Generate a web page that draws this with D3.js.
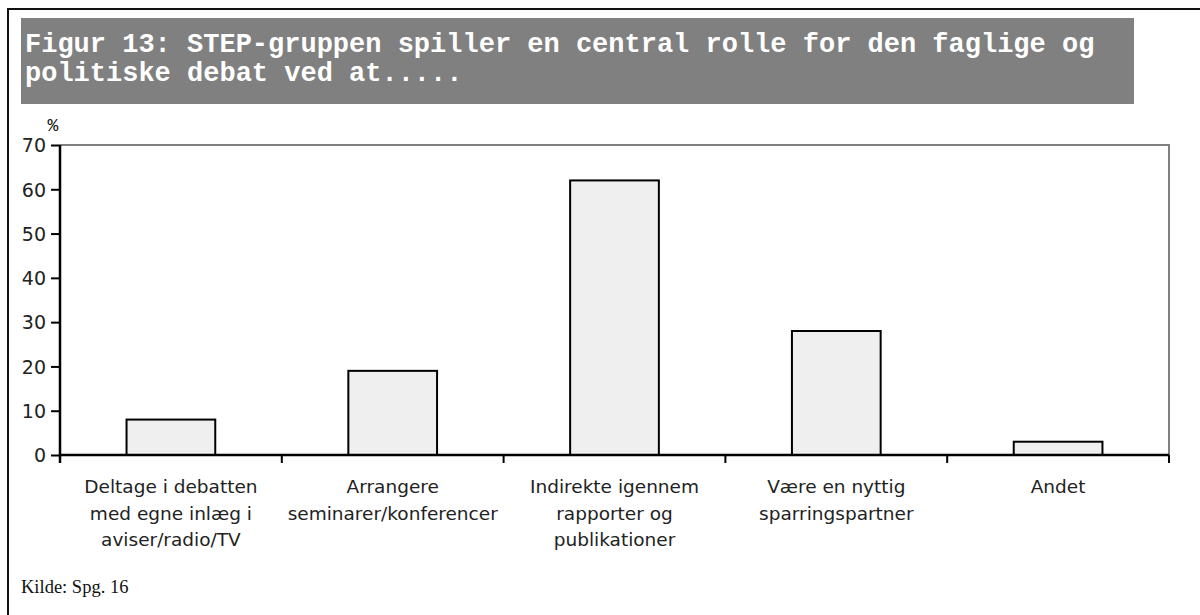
<!DOCTYPE html>
<html>
<head>
<meta charset="utf-8">
<script src="https://cdn.jsdelivr.net/npm/d3@7"></script>
<style>
  html, body { margin: 0; padding: 0; background: #fff; }
  svg { display: block; }
</style>
</head>
<body>
<svg id="chart" width="1200" height="615"></svg>
<script>
const titleLines = [
  "Figur 13: STEP-gruppen spiller en central rolle for den faglige og",
  "politiske debat ved at....."
];
const categories = [
  "Deltage i debatten|med egne inlæg i|aviser/radio/TV",
  "Arrangere|seminarer/konferencer",
  "Indirekte igennem|rapporter og|publikationer",
  "Være en nyttig|sparringspartner",
  "Andet"
];
const values = [8, 19, 62, 28, 3];
const yTicks = [0, 10, 20, 30, 40, 50, 60, 70];
const yUnit = "%";
const source = "Kilde: Spg. 16";

(function () {
const svg = d3.select("#chart");

// outer frame
svg.append("rect")
  .attr("x", 8).attr("y", 9).attr("width", 1250).attr("height", 700)
  .attr("fill", "none").attr("stroke", "#111").attr("stroke-width", 2);

// title box
svg.append("rect")
  .attr("x", 21).attr("y", 18).attr("width", 1113).attr("height", 86)
  .attr("fill", "#808080");
svg.append("g").selectAll("text").data(titleLines).join("text")
  .attr("x", 25)
  .attr("y", (d, i) => 52 + i * 29)
  .attr("fill", "#fff")
  .attr("font-family", "'Liberation Mono', 'Courier New', monospace")
  .attr("font-weight", "bold")
  .attr("font-size", 27)
  .attr("xml:space", "preserve")
  .text(d => d);

const pLeft = 60, pRight = 1169, pTop = 145, pBottom = 455;

const x = d3.scaleBand().domain(categories).range([pLeft, pRight])
  .paddingInner(0.6).paddingOuter(0.3);
const xBand = d3.scaleBand().domain(categories).range([pLeft, pRight]).padding(0);
const y = d3.scaleLinear().domain([0, 70]).range([pBottom, pTop]);

// plot frame (top & right gray)
svg.append("path")
  .attr("d", `M${pLeft},${pTop}H${pRight}V${pBottom}`)
  .attr("fill", "none").attr("stroke", "#808080").attr("stroke-width", 2);

// bars
svg.append("g").selectAll("rect").data(values).join("rect")
  .attr("x", (d, i) => x(categories[i]))
  .attr("y", d => y(d))
  .attr("width", x.bandwidth())
  .attr("height", d => y(0) - y(d))
  .attr("fill", "#efefef")
  .attr("stroke", "#000")
  .attr("stroke-width", 2);

// y axis
const yAxis = d3.axisLeft(y).tickValues(yTicks).tickSize(9).tickPadding(5);
const gy = svg.append("g").attr("transform", `translate(${pLeft},0)`).call(yAxis);
gy.select(".domain").attr("stroke", "#000").attr("stroke-width", 2.5)
  .attr("d", `M0,${pTop}V${pBottom + 8}`);
gy.selectAll(".tick line").attr("stroke", "#000").attr("stroke-width", 2);
gy.selectAll(".tick text")
  .attr("font-family", "'DejaVu Sans', sans-serif")
  .attr("font-size", 19)
  .attr("fill", "#222")
  .attr("dy", "0.36em");

// x axis line + ticks at category boundaries
const boundaries = categories.map(c => xBand(c)).concat([xBand(categories[categories.length - 1]) + xBand.bandwidth()]);
svg.append("line")
  .attr("x1", pLeft).attr("x2", pRight).attr("y1", pBottom).attr("y2", pBottom)
  .attr("stroke", "#000").attr("stroke-width", 2.5);
svg.append("g").selectAll("line").data(boundaries).join("line")
  .attr("x1", d => d).attr("x2", d => d)
  .attr("y1", pBottom).attr("y2", pBottom + 8)
  .attr("stroke", "#000").attr("stroke-width", 2);

// category labels
const lab = svg.append("g").selectAll("text").data(categories).join("text")
  .attr("text-anchor", "middle")
  .attr("font-family", "'DejaVu Sans', sans-serif")
  .attr("font-size", 18.5)
  .attr("fill", "#222");
lab.each(function(d) {
  const cx = xBand(d) + xBand.bandwidth() / 2;
  d3.select(this).selectAll("tspan").data(d.split("|")).join("tspan")
    .attr("x", cx)
    .attr("y", (t, i) => 493 + i * 26.7)
    .text(t => t);
});

// unit label
svg.append("text")
  .attr("x", 53).attr("y", 131)
  .attr("text-anchor", "middle")
  .attr("font-family", "'Liberation Mono', 'Courier New', monospace")
  .attr("font-size", 18)
  .attr("fill", "#111")
  .text(yUnit);

// source
svg.append("text")
  .attr("x", 21).attr("y", 593)
  .attr("font-family", "'Liberation Serif', 'Times New Roman', serif")
  .attr("font-size", 18.5)
  .attr("fill", "#111")
  .text(source);
})();
</script>
</body>
</html>
